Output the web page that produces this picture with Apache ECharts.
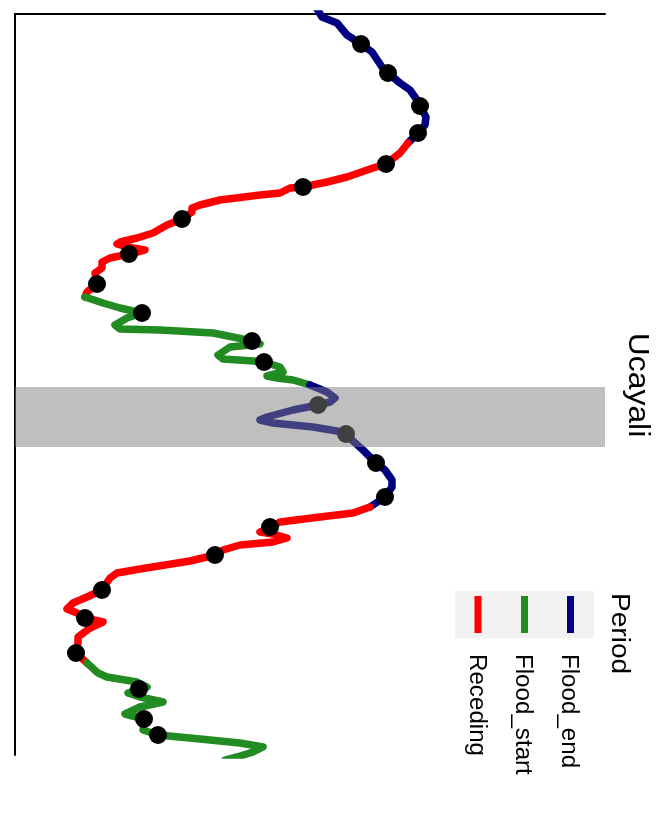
<!DOCTYPE html>
<html>
<head>
<meta charset="utf-8">
<script src="https://cdn.jsdelivr.net/npm/echarts@6/dist/echarts.min.js"></script>
<style>
html,body{margin:0;padding:0;background:#fff;}
#chart{width:666px;height:837px;}
</style>
</head>
<body>
<div id="chart"></div>
<script>
// Time (days from start of window) vs water level (cm above datum), split by period
const floodEnd1 = [[-5,302],[3,307],[9,322],[21,332],[30,346],[38,357],[53,367],[59,373],[69,385],[76,395],[86,402],[92,405],[103,411],[111,410],[119,403],[129,393]];
const receding1 = [[129,393],[139,385],[150,371],[154,358],[163,332],[168,312],[173,288],[174,275],[179,265],[181,245],[186,205],[191,185],[194,177],[198,177],[205,167],[211,152],[219,138],[224,122],[228,105],[230,102],[233,112],[236,130],[240,114],[244,95],[248,87],[254,87],[259,80],[270,82],[278,72],[283,70]];
const floodStart1 = [[283,70],[289,88],[294,105],[297,118],[299,127],[304,112],[311,100],[315,105],[316,145],[319,198],[323,218],[327,237],[330,245],[333,215],[341,203],[345,208],[347,238],[348,249],[353,265],[358,268],[362,252],[364,262],[366,278],[371,295]];
const floodEnd2 = [[371,295],[378,312],[384,320],[388,315],[391,303],[396,278],[403,252],[406,245],[409,258],[413,298],[417,322],[420,331],[427,338],[436,348],[449,361],[456,370],[466,377],[473,377],[483,370],[493,355]];
const receding2 = [[493,355],[499,338],[503,305],[508,265],[513,255],[518,245],[520,258],[524,272],[528,258],[531,225],[536,208],[541,200],[547,175],[555,125],[559,102],[564,95],[576,87],[583,72],[589,58],[595,52],[599,62],[604,70],[608,88],[614,75],[623,63],[629,63],[639,61],[649,72]];
const floodStart2 = [[649,72],[659,83],[663,92],[668,122],[673,132],[675,124],[679,113],[683,125],[688,148],[693,125],[700,110],[705,129],[716,128],[721,143],[724,175],[729,225],[733,248],[738,238],[742,225],[746,210]];
const samples = [[30,346],[59,373],[92,405],[119,403],[150,371],[173,288],[205,167],[240,114],[270,82],[299,127],[327,237],[348,249],[391,303],[420,331],[449,361],[483,370],[513,255],[541,200],[576,87],[604,70],[639,61],[675,124],[705,129],[721,143]];
const highlight = [[373,433]];
const dayRange = [0,741];
const levelRange = [0,590];
const periods = ['Flood_end','Flood_start','Receding'];
const periodColors = {Flood_end:'#000080', Flood_start:'#228B22', Receding:'#FF0000'};
const panelLabel = 'Ucayali';
const legendTitle = 'Period';

const segs = [
  ['Flood_end', floodEnd1], ['Receding', receding1], ['Flood_start', floodStart1],
  ['Flood_end', floodEnd2], ['Receding', receding2], ['Flood_start', floodStart2]
];

const series = segs.map(([name, d]) => ({
  type:'line', name, z:2, symbol:'none', smooth:false, clip:true,
  data: d.map(p => [p[1], p[0]]),
  lineStyle:{color:periodColors[name], width:7.5, cap:'round', join:'round'},
  itemStyle:{color:periodColors[name]},
  emphasis:{disabled:true}, silent:true, animation:false
}));
series.push({
  type:'scatter', name:'samples', z:3, symbol:'circle', symbolSize:18,
  data: samples.map(p => [p[1], p[0]]),
  itemStyle:{color:'#000', opacity:1}, silent:true, animation:false
});
series.push({
  type:'custom', name:'band', z:5, silent:true, animation:false,
  data: highlight,
  renderItem: (params, api) => {
    const a = api.coord([levelRange[0], api.value(0)]);
    const b = api.coord([levelRange[1], api.value(1)]);
    return {type:'rect', shape:{x:a[0], y:a[1], width:b[0]-a[0], height:b[1]-a[1]},
            style:{fill:'rgba(127,127,127,0.5)'}};
  }
});

const font = '"Liberation Sans", Arial, Helvetica, sans-serif';
const rot = -Math.PI/2;
const keyX = {Receding:478, Flood_start:524.5, Flood_end:570.5};
const graphics = [
  {type:'text', x:637, y:385, rotation:rot, scaleX:1.1, style:{text:panelLabel, font:'29px '+font, fill:'#000', align:'center', verticalAlign:'middle'}},
  {type:'rect', shape:{x:455, y:591, width:139, height:47}, style:{fill:'#F2F2F2'}},
  {type:'text', x:619, y:593, rotation:rot, scaleX:1.08, style:{text:legendTitle, font:'26px '+font, fill:'#000', align:'left', verticalAlign:'middle'}}
];
periods.forEach(p => {
  graphics.push({type:'line', shape:{x1:keyX[p], y1:596, x2:keyX[p], y2:633}, style:{stroke:periodColors[p], lineWidth:7}});
  graphics.push({type:'text', x:keyX[p]-2, y:654, rotation:rot, scaleX:1.05, style:{text:p, font:'23px '+font, fill:'#000', align:'left', verticalAlign:'middle'}});
});

const chart = echarts.init(document.getElementById('chart'), null, {renderer:'canvas'});
chart.setOption({
  animation:false,
  backgroundColor:'#fff',
  grid:{left:15, right:61, top:14, bottom:82, containLabel:false},
  xAxis:{type:'value', position:'top', min:levelRange[0], max:levelRange[1],
    axisLine:{show:true, onZero:false, lineStyle:{color:'#000', width:2}},
    axisTick:{show:false}, axisLabel:{show:false}, splitLine:{show:false}},
  yAxis:{type:'value', inverse:true, min:dayRange[0], max:dayRange[1],
    axisLine:{show:true, onZero:false, lineStyle:{color:'#000', width:2}},
    axisTick:{show:false}, axisLabel:{show:false}, splitLine:{show:false}},
  legend:{show:false},
  tooltip:{show:false},
  series,
  graphic:graphics
});
</script>
</body>
</html>
